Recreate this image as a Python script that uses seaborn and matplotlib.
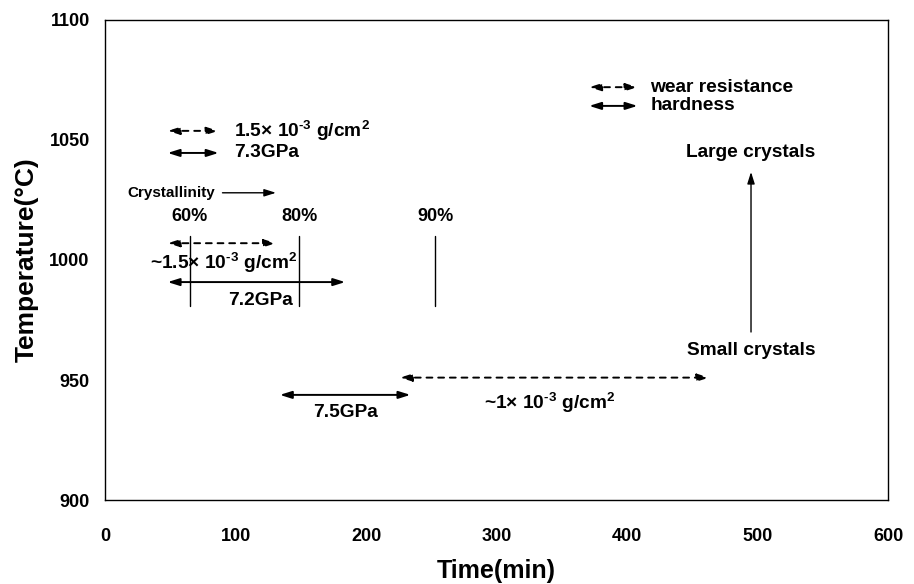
import matplotlib
matplotlib.use("Agg")
import matplotlib.pyplot as plt
import seaborn as sns
import pandas as pd

sns.set_style("white")
plt.rcParams['font.family'] = ['Liberation Sans', 'DejaVu Sans']
plt.rcParams['font.weight'] = 'bold'
plt.rcParams['text.color'] = 'black'
plt.rcParams['axes.labelcolor'] = 'black'
plt.rcParams['mathtext.fontset'] = 'custom'
plt.rcParams['mathtext.rm'] = 'Liberation Sans:bold'
plt.rcParams['mathtext.it'] = 'Liberation Sans:bold'
plt.rcParams['mathtext.bf'] = 'Liberation Sans:bold'
plt.rcParams['mathtext.default'] = 'rm'

# ---- data ----
x_ticks = [0, 100, 200, 300, 400, 500, 600]
y_ticks = [900, 950, 1000, 1050, 1100]

cryst_labels = ['60%', '80%', '90%']
cryst_time = [65, 149, 253]
cryst_label_y = 1018
cryst_line_lo = 981
cryst_line_hi = 1010

# arrows: start time, end time, temperature, style
arrow_x0 = [371, 371, 48, 48, 48, 48, 134, 226]
arrow_x1 = [408, 408, 87, 87, 131, 184, 234, 463]
arrow_y = [1072, 1064.2, 1053.8, 1044.6, 1007, 990.8, 943.8, 951]
arrow_dashed = [True, False, True, False, True, False, False, True]

# text labels
text_str = ['wear resistance', 'hardness',
            r'1.5× 10$^{‐3}$ g/cm$^{2}$', '7.3GPa',
            r'~1.5× 10$^{‐3}$ g/cm$^{2}$', '7.2GPa',
            '7.5GPa', r'~1× 10$^{‐3}$ g/cm$^{2}$',
            'Large crystals', 'Small crystals', 'Crystallinity']
text_x = [418, 418, 99, 99, 90.5, 119, 184, 341, 495, 495, 17.5]
text_y = [1072, 1064.2, 1053.8, 1044.6, 998.8, 983, 936.5, 940.4, 1044.6, 962.5, 1028]
text_ha = ['left', 'left', 'left', 'left', 'center', 'center', 'center', 'center',
           'center', 'center', 'left']

cryst_arrow_x = [90, 131]
cryst_arrow_y = 1028
crystal_arrow_x = 495
crystal_arrow_y = [970, 1036.7]

# ---- figure ----
fig = plt.figure(figsize=(9.14, 5.84), dpi=100)
ax = fig.add_axes([0.1149, 0.1438, 0.9716 - 0.1149, 0.9658 - 0.1438])

# crystallinity vertical lines via seaborn
rows = []
for i, t in enumerate(cryst_time):
    rows.append({'t': t, 'T': cryst_line_lo, 'u': i})
    rows.append({'t': t, 'T': cryst_line_hi, 'u': i})
df = pd.DataFrame(rows)
sns.lineplot(data=df, x='t', y='T', units='u', estimator=None, color='black',
             linewidth=1.0, ax=ax, sort=False)
for lab, t in zip(cryst_labels, cryst_time):
    ax.text(t, cryst_label_y, lab, ha='center', va='center', fontsize=13, fontweight='bold')

for x0, x1, y, d in zip(arrow_x0, arrow_x1, arrow_y, arrow_dashed):
    ax.annotate('', xy=(x1, y), xytext=(x0, y),
                arrowprops=dict(arrowstyle='<|-|>,head_length=0.7,head_width=0.22',
                                color='black', lw=1.4,
                                linestyle=(0, (3, 3)) if d else '-',
                                shrinkA=0, shrinkB=0))

ax.annotate('', xy=(cryst_arrow_x[1], cryst_arrow_y), xytext=(cryst_arrow_x[0], cryst_arrow_y),
            arrowprops=dict(arrowstyle='-|>,head_length=0.7,head_width=0.22', color='black',
                            lw=1.0, shrinkA=0, shrinkB=0))
ax.annotate('', xy=(crystal_arrow_x, crystal_arrow_y[1]), xytext=(crystal_arrow_x, crystal_arrow_y[0]),
            arrowprops=dict(arrowstyle='-|>,head_length=0.7,head_width=0.22', color='black',
                            lw=1.0, shrinkA=0, shrinkB=0))

for s, x, y, ha in zip(text_str, text_x, text_y, text_ha):
    fs = 11 if s == 'Crystallinity' else 13.8
    ax.text(x, y, s, ha=ha, va='center', fontsize=fs, fontweight='bold')

ax.set_xlim(0, 600)
ax.set_ylim(900, 1100)
ax.set_xticks(x_ticks)
ax.set_yticks(y_ticks)
ax.set_xticklabels([str(v) for v in x_ticks], fontsize=13, fontweight='bold')
ax.set_yticklabels([str(v) for v in y_ticks], fontsize=13, fontweight='bold')
ax.tick_params(axis='x', direction='in', length=4, color='#999999', width=0.8, pad=20,
               labelcolor='black')
ax.tick_params(axis='y', direction='in', length=4, color='#999999', width=0.8, pad=11,
               labelcolor='black')
ax.set_xlabel('Time(min)', fontsize=18, fontweight='bold', labelpad=10)
ax.set_ylabel('Temperature(°C)', fontsize=19, fontweight='bold', labelpad=8)
for sp in ax.spines.values():
    sp.set_visible(True)
    sp.set_color('black')
    sp.set_linewidth(1.0)

fig.savefig('out.png', dpi=100)
